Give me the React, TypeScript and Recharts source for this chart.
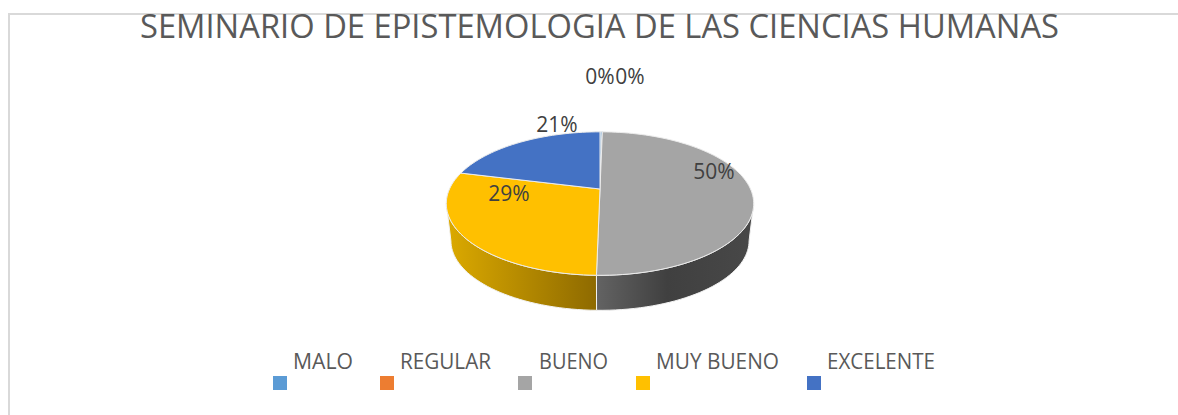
import { PieChart, Pie, Legend } from 'recharts';

const TITLE = 'SEMINARIO DE EPISTEMOLOGIA DE LAS CIENCIAS HUMANAS';
const categories = ['MALO', 'REGULAR', 'BUENO', 'MUY BUENO', 'EXCELENTE'];
const values = [0.3, 0, 50, 28.6, 21.1];
const colors = ['#5B9BD5', '#ED7D31', '#A5A5A5', '#FFC000', '#4472C4'];
const wallFills = ['none', 'none', 'url(#wallGray)', 'url(#wallYellow)', 'none'];

const tableData = categories.map((name, i) => ({ name, value: values[i], fill: colors[i], wall: wallFills[i] }));

// layout
const CX = 600;
const CY = 189;
const RADIUS = 150.5;
const SQUASH = 0.457; // tilt of the disc
const PERSP = 0.203; // near edge looks bigger than far edge
const DEPTH = 37.6;
const LOWER_SCALE = 0.97;
const labelOffsets = [
  { x: 0, y: -113 },
  { x: 30, y: -113 },
  { x: 114, y: -18 },
  { x: -91, y: 4 },
  { x: -43, y: -65 },
];
const legendLayout = [
  { square: 273, text: 293, width: 60 },
  { square: 380, text: 400, width: 91 },
  { square: 518, text: 539, width: 69 },
  { square: 636, text: 656, width: 123 },
  { square: 807, text: 827, width: 108 },
];

// phi is clockwise from 12 o'clock
function rim(phi: number) {
  const rad = (phi * Math.PI) / 180;
  const u = Math.sin(rad);
  const v = -Math.cos(rad);
  const w = 1 - PERSP * v;
  return { x: (RADIUS * u) / w, y: (RADIUS * SQUASH * v) / w };
}

function arcPoints(from: number, to: number) {
  const steps = Math.max(2, Math.ceil(Math.abs(to - from) / 2));
  const pts = [];
  for (let i = 0; i <= steps; i++) pts.push(rim(from + ((to - from) * i) / steps));
  return pts;
}

function TopFace(props: any) {
  const from = 90 - props.startAngle;
  const to = 90 - props.endAngle;
  const pts = arcPoints(from, to).map((p) => `${CX + p.x},${CY + p.y}`);
  return <path d={`M${CX},${CY}L${pts.join('L')}Z`} fill={props.fill} stroke="#ececec" strokeWidth={1} />;
}

function WallFace(props: any) {
  const wall = props.payload?.wall ?? props.wall;
  if (wall === 'none') return <g />;
  const front = (Math.asin(PERSP) * 180) / Math.PI + 90;
  const from = Math.max(90 - props.startAngle, front);
  const to = Math.min(90 - props.endAngle, 360 - front);
  if (to <= from) return <g />;
  const arc = arcPoints(from, to);
  const upper = arc.map((p) => `${CX + p.x},${CY + p.y}`);
  const lower = arc
    .slice()
    .reverse()
    .map((p) => `${CX + p.x * LOWER_SCALE},${CY + DEPTH + p.y * LOWER_SCALE}`);
  return <path d={`M${upper.join('L')}L${lower.join('L')}Z`} fill={wall} stroke="#f2f2f2" strokeWidth={1} />;
}

function renderLabel(props: any) {
  const off = labelOffsets[props.index];
  return (
    <text
      x={CX + off.x}
      y={CY + off.y}
      textAnchor="middle"
      dominantBaseline="central"
      fontFamily="'Open Sans', sans-serif"
      fontSize={21}
      fill="#404040"
    >
      {`${Math.round(props.percent * 100)}%`}
    </text>
  );
}

function LegendRow({ payload }: any) {
  return (
    <svg width={1178} height={415} style={{ position: 'absolute', left: 0, top: 0 }}>
      {categories.map((name, i) => {
        const item = (payload ?? []).find((p: any) => p.value === name);
        return (
          <g key={name}>
            <rect x={legendLayout[i].square} y={376} width={14} height={14} fill={item?.color ?? colors[i]} />
            <text
              x={legendLayout[i].text}
              y={369}
              fontFamily="'Open Sans', sans-serif"
              fontSize={22}
              fill="#595959"
              textLength={legendLayout[i].width}
              lengthAdjust="spacingAndGlyphs"
            >
              {name}
            </text>
          </g>
        );
      })}
    </svg>
  );
}

export default function App() {
  return (
    <div style={{ position: 'absolute', left: 0, top: 0, width: 1178, height: 415, background: '#fff', overflow: 'hidden' }}>
      <div style={{ position: 'absolute', left: 8, top: 13, right: 0, bottom: 0, borderTop: '2px solid #d9d9d9', borderLeft: '2px solid #d9d9d9' }} />
      <PieChart width={1178} height={415} margin={{ top: 0, right: 0, bottom: 0, left: 0 }}>
        <defs>
          <linearGradient id="wallYellow" x1="0" y1="0" x2="1" y2="0">
            <stop offset="0%" stopColor="#dcaa00" />
            <stop offset="100%" stopColor="#8e6a00" />
          </linearGradient>
          <linearGradient id="wallGray" x1="0" y1="0" x2="1" y2="0">
            <stop offset="0%" stopColor="#636363" />
            <stop offset="45%" stopColor="#404040" />
            <stop offset="100%" stopColor="#484848" />
          </linearGradient>
        </defs>
        <text
          x={140}
          y={38}
          fontFamily="'Open Sans', sans-serif"
          fontSize={33}
          fill="#595959"
          textLength={919}
          lengthAdjust="spacingAndGlyphs"
        >
          {TITLE}
        </text>
        <Pie
          data={tableData}
          dataKey="value"
          nameKey="name"
          cx={CX}
          cy={CY}
          outerRadius={RADIUS}
          startAngle={90}
          endAngle={-270}
          legendType="none"
          shape={(props: any) => <WallFace {...props} />}
          isAnimationActive={false}
        />
        <Pie
          data={tableData}
          dataKey="value"
          nameKey="name"
          cx={CX}
          cy={CY}
          outerRadius={RADIUS}
          startAngle={90}
          endAngle={-270}
          shape={(props: any) => <TopFace {...props} />}
          label={renderLabel}
          labelLine={false}
          isAnimationActive={false}
        />
        <Legend
          content={<LegendRow />}
          wrapperStyle={{ position: 'absolute', left: 0, top: 0, width: 1178, height: 415, pointerEvents: 'none' }}
        />
      </PieChart>
    </div>
  );
}
